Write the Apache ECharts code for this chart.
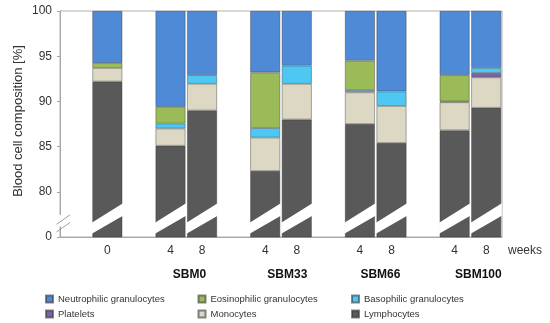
<!DOCTYPE html>
<html><head><meta charset="utf-8">
<script src="https://cdn.jsdelivr.net/npm/echarts@6/dist/echarts.min.js"></script>
<style>html,body{margin:0;padding:0;background:#fff}#c{width:550px;height:323px}</style>
</head><body><div id="c"></div>
<script>
// slot labels along the x axis (empty slots separate the diet groups)
const categories   = ['', '0', '', '4', '8', '', '4', '8', '', '4', '8', '', '4', '8'];
const groupLabels  = ['SBM0', 'SBM33', 'SBM66', 'SBM100'];
const yTickLabels  = ['0', '80', '85', '90', '95', '100'];

// blood cell composition [%] per slot
const lymphocytes  = [null, 92.2, null, 85.1, 89.0, null, 82.3, 88.0, null, 87.5, 85.4, null, 86.8, 89.3];
const monocytes    = [null, 1.5,  null, 1.9,  2.95, null, 3.7,  3.95, null, 3.5,  4.1,  null, 3.1,  3.35];
const platelets    = [null, null, null, null, null, null, null, null, null, null, null, null, null, 0.5];
const basophilic   = [null, null, null, 0.55, 0.95, null, 1.05, 2.0,  null, 0.25, 1.6,  null, 0.1,  0.55];
const eosinophilic = [null, 0.55, null, 1.85, null, null, 6.15, null, null, 3.25, null, null, 2.9,  null];
const neutrophilic = [null, 5.75, null, 10.6, 7.1,  null, 6.8,  6.05, null, 5.5,  8.9,  null, 7.1,  6.3];

const FONT = '"Liberation Sans", Arial, sans-serif';
const chart = echarts.init(document.getElementById('c'), null, {renderer: 'canvas'});

const barBorder = 'rgba(55,55,55,0.6)';
function barSeries(name, data, color) {
  return {
    name, type: 'bar', stack: 'total', data, barWidth: 30,
    xAxisIndex: 0, yAxisIndex: 0,
    itemStyle: {color, borderColor: barBorder, borderWidth: 0.7},
    emphasis: {disabled: true}
  };
}

const barSlots = lymphocytes.map((v, i) => v == null ? null : [i]).filter(Boolean);

function cutItem(params, api) {
  const i = api.value(0);
  const xc = api.coord([i, 80])[0];
  const y = v => api.coord([i, v])[1];
  const xl = xc - 15.6, xr = xc + 15.6;
  return {
    type: 'polygon',
    shape: {points: [[xl, y(76.58)], [xr, y(78.72)], [xr, y(77.36)], [xl, y(75.36)]]},
    style: {fill: '#fff'}
  };
}

function axisBreakItem(params, api) {
  const gl = api.coord([0, 80])[0] - api.size([1, 0])[0] / 2;
  const y = v => api.coord([0, v])[1];
  return {
    type: 'group',
    children: [
      {type: 'rect', shape: {x: gl - 2, y: y(77.45), width: 4, height: y(76.15) - y(77.45)}, style: {fill: '#fff'}},
      {type: 'line', shape: {x1: gl - 3.5, y1: y(76.4), x2: gl + 10, y2: y(77.45)}, style: {stroke: '#a0a0a0', lineWidth: 1}},
      {type: 'line', shape: {x1: gl - 3.5, y1: y(75.55), x2: gl + 10, y2: y(76.6)}, style: {stroke: '#a0a0a0', lineWidth: 1}}
    ]
  };
}

const legendCommon = {
  orient: 'vertical', top: 293.5, padding: 0, itemWidth: 7, itemHeight: 7, itemGap: 4,
  selectedMode: false, icon: 'rect',
  textStyle: {fontSize: 9.5, color: '#333', fontFamily: FONT, lineHeight: 11}
};

chart.setOption({
  animation: false,
  textStyle: {fontFamily: FONT},
  grid: {left: 60, right: 48, top: 11, bottom: 86, show: true, borderColor: '#b0b0b0', borderWidth: 1, backgroundColor: 'transparent'},
  legend: [
    Object.assign({}, legendCommon, {left: 45, data: ['Neutrophilic granulocytes', 'Platelets']}),
    Object.assign({}, legendCommon, {left: 197.5, data: ['Eosinophilic granulocytes', 'Monocytes']}),
    Object.assign({}, legendCommon, {left: 351, data: ['Basophilic granulocytes', 'Lymphocytes']})
  ],
  xAxis: [
    {
      type: 'category', data: categories, position: 'bottom',
      axisLine: {lineStyle: {color: '#a8a8a8', width: 1}},
      axisTick: {show: false},
      axisLabel: {interval: 0, fontSize: 12, color: '#333', margin: 8, fontFamily: FONT},
      name: 'weeks', nameLocation: 'end', nameGap: 6,
      nameTextStyle: {fontSize: 12, color: '#333', align: 'left', verticalAlign: 'top', padding: [8, 0, 0, 0], fontFamily: FONT}
    },
    {
      type: 'value', min: 0, max: 14, position: 'bottom', offset: 24,
      axisLine: {show: false}, axisTick: {show: false}, splitLine: {show: false},
      axisLabel: {
        customValues: [4.1, 7.2, 10.15, 13.25],
        formatter: v => groupLabels[Math.round((v - 4) / 3)],
        fontSize: 12, fontWeight: 'bold', color: '#111', margin: 8, fontFamily: FONT
      }
    }
  ],
  yAxis: {
    type: 'value', min: 75, max: 100, interval: 5,
    name: 'Blood cell composition [%]', nameLocation: 'middle', nameGap: 35, nameMoveOverlap: false,
    nameTextStyle: {fontSize: 13, color: '#333', padding: [0, 0, 0, 6], fontFamily: FONT},
    axisLine: {show: true, lineStyle: {color: '#a8a8a8', width: 1}},
    axisTick: {show: true, length: 3, lineStyle: {color: '#a8a8a8'}},
    splitLine: {show: false},
    axisLabel: {fontSize: 12, color: '#333', margin: 8, formatter: (v, idx) => yTickLabels[idx], fontFamily: FONT}
  },
  series: [
    barSeries('Lymphocytes', lymphocytes, '#595959'),
    barSeries('Monocytes', monocytes, '#ddd8c3'),
    barSeries('Platelets', platelets, '#7e62a5'),
    barSeries('Basophilic granulocytes', basophilic, '#4ec8f2'),
    barSeries('Eosinophilic granulocytes', eosinophilic, '#9bbb59'),
    barSeries('Neutrophilic granulocytes', neutrophilic, '#4f8ad6'),
    {type: 'custom', name: 'cut', xAxisIndex: 0, yAxisIndex: 0, data: barSlots, renderItem: cutItem, z: 10, silent: true},
    {type: 'custom', name: 'axisbreak', xAxisIndex: 0, yAxisIndex: 0, data: [[0]], renderItem: axisBreakItem, z: 10, silent: true, clip: false}
  ]
});
</script>
</body></html>
